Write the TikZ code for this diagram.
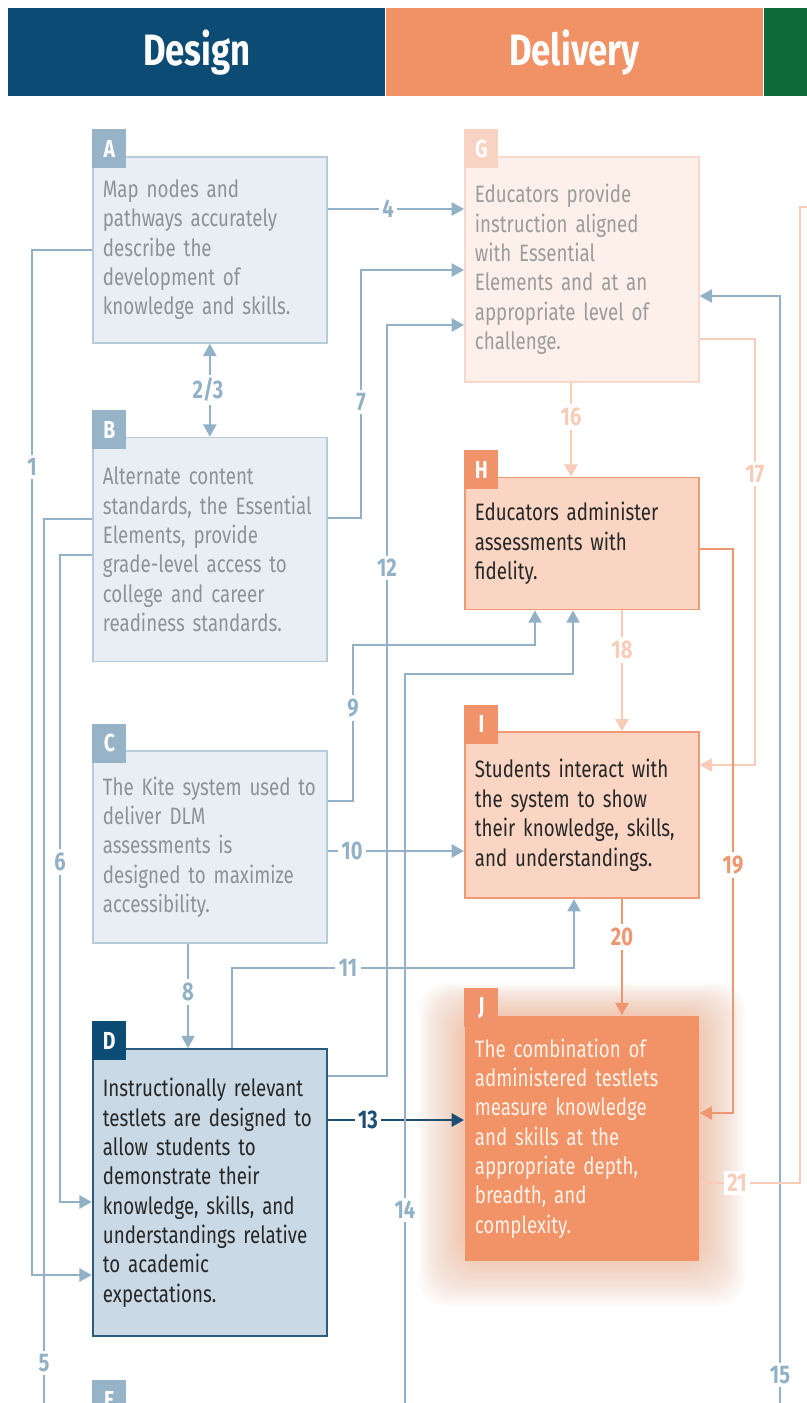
\documentclass[tikz,border=0pt]{standalone}
\usepackage{fontspec}
\setmainfont{Fira Sans}[FakeStretch=0.79]
\usetikzlibrary{arrows.meta,positioning,backgrounds}

\definecolor{designblue}{HTML}{0B4B74}
\definecolor{deliverorange}{HTML}{F19166}
\definecolor{scoregreen}{HTML}{0F6A3B}
\definecolor{flowblue}{HTML}{92B1C7}
\definecolor{designfill}{HTML}{E8EEF3}
\definecolor{designline}{HTML}{B7CBD9}
\definecolor{designtab}{HTML}{96B3C8}
\definecolor{designtext}{HTML}{8D9297}
\definecolor{corefill}{HTML}{C9D9E5}
\definecolor{coreline}{HTML}{2B5B7E}
\definecolor{corelabel}{HTML}{1D4F74}
\definecolor{plainfill}{HTML}{FDF0EA}
\definecolor{plainline}{HTML}{F8D8CA}
\definecolor{plaintab}{HTML}{F8D3C3}
\definecolor{plaintext}{HTML}{9C9C9C}
\definecolor{activefill}{HTML}{FBD5C3}
\definecolor{activeline}{HTML}{F09A73}
\definecolor{activetab}{HTML}{F0936A}
\definecolor{outcomefill}{HTML}{F29367}
\definecolor{outcometext}{HTML}{FFF2EA}
\definecolor{faintflow}{HTML}{F8CCB9}
\definecolor{strongflow}{HTML}{EF9870}

\begin{document}
\begin{tikzpicture}[
  x=0.02cm, y=-0.02cm,
  >={Triangle[length=7pt,width=7.5pt]},
  header band/.style={anchor=north west, minimum width=7.54cm, minimum height=1.76cm,
    inner sep=0pt, text=white, font=\fontsize{25}{25}\selectfont\bfseries},
  box/.style={rectangle, anchor=north west, inner xsep=0.12cm, text width=4.44cm,
    minimum width=4.68cm, align=left, font=\fontsize{13.5}{16.7}\selectfont,
    execute at begin node={\leftskip=0.08cm}, line width=1pt},
  design box/.style={box, fill=designfill, draw=designline, text=designtext},
  core box/.style={box, fill=corefill, draw=coreline, text=black!85, line width=1.3pt},
  plain box/.style={box, fill=plainfill, draw=plainline, text=plaintext},
  active box/.style={box, fill=activefill, draw=activeline, text=black!85},
  outcome box/.style={box, fill=outcomefill, text=outcometext},
  letter tab/.style={anchor=north west, minimum width=0.68cm, minimum height=0.78cm,
    inner sep=0pt, text=white, font=\fontsize{14}{14}\selectfont\bfseries},
  flow/.style={->, draw=flowblue, line width=1.1pt},
  flow line/.style={draw=flowblue, line width=1.1pt},
  faint flow/.style={->, draw=faintflow, line width=1pt},
  strong flow/.style={->, draw=strongflow, line width=1.2pt},
  num/.style={fill=white, inner sep=2pt, text=flowblue, font=\fontsize{14.5}{14.5}\selectfont\bfseries},
  faint num/.style={num, text=faintflow},
  strong num/.style={num, text=strongflow}
]
  \useasboundingbox (0,0) rectangle (807,1403);
  \begin{scope}[on background layer]
    \fill[white] (0,0) rectangle (807,1403);
  \end{scope}
  \clip (0,0) rectangle (807,1403);

  % column headers
  \node[header band, fill=designblue] (design) at (8,8) {Design};
  \node[header band, fill=deliverorange, right=0pt of design] (delivery) {Delivery};
  \node[header band, fill=scoregreen, minimum width=1.2cm, right=0pt of delivery] (scoring) {};

  % design column
  \node[design box, minimum height=3.72cm] (A) at (92,156)
    {Map nodes and\\pathways accurately\\describe the\\development of\\knowledge and skills.};
  \node[design box, minimum height=4.48cm, below=1.86cm of A] (B)
    {Alternate content\\standards, the Essential\\Elements, provide\\grade-level access to\\college and career\\readiness standards.};
  \node[design box, minimum height=3.84cm, below=1.76cm of B] (C)
    {The Kite system used to\\deliver DLM\\assessments is\\designed to maximize\\accessibility.};
  \node[core box, minimum height=5.74cm, below=2.08cm of C] (D)
    {Instructionally relevant\\testlets are designed to\\allow students to\\demonstrate their\\knowledge, skills, and\\understandings relative\\to academic\\expectations.};

  % delivery column
  \node[plain box, minimum height=4.5cm] (G) at (464,156)
    {Educators provide\\instruction aligned\\with Essential\\Elements and at an\\appropriate level of\\challenge.};
  \node[active box, minimum height=2.64cm, below=1.88cm of G] (H)
    {Educators administer\\assessments with\\fidelity.};
  \node[active box, minimum height=3.32cm, below=2.42cm of H] (I)
    {Students interact with\\the system to show\\their knowledge, skills,\\and understandings.};
  \node[outcome box, minimum height=4.9cm, below=2.32cm of I] (J)
    {The combination of\\administered testlets\\measure knowledge\\and skills at the\\appropriate depth,\\breadth, and\\complexity.};

  % soft glow round J
  \begin{scope}[on background layer]
    \foreach \g in {2,4,...,46}
      \fill[outcomefill, opacity=0.022, rounded corners=16pt]
        ([shift={(-\g*0.02cm,-\g*0.022cm+0.12cm)}]J.south west) rectangle
        ([shift={(\g*0.02cm,\g*0.014cm)}]J.north east);
  \end{scope}

  % letter tabs
  \node[letter tab, fill=designtab] (tabA) at ([yshift=0.54cm]A.north west) {A};
  \node[letter tab, fill=designtab] (tabB) at ([yshift=0.54cm]B.north west) {B};
  \node[letter tab, fill=designtab] (tabC) at ([yshift=0.54cm]C.north west) {C};
  \node[letter tab, fill=designblue] (tabD) at ([yshift=0.54cm]D.north west) {D};
  \node[letter tab, fill=designtab] (tabE) at (92,1380) {E};
  \node[letter tab, fill=plaintab] (tabG) at ([yshift=0.54cm]G.north west) {G};
  \node[letter tab, fill=activetab] (tabH) at ([yshift=0.54cm]H.north west) {H};
  \node[letter tab, fill=activetab] (tabI) at ([yshift=0.54cm]I.north west) {I};
  \node[letter tab, fill=activetab] (tabJ) at ([yshift=0.54cm]J.north west) {J};

  % free ends that leave the picture
  \coordinate (out5) at (44,1420);
  \coordinate (in14) at (405,1420);
  \coordinate (in15) at (780,1420);
  \coordinate (out21) at (830,207);

  % design connectors
  \draw[flow] (A.west) -| (32,1275) -- (D.west |- 0,1275);
  \draw[flow,<->] (A.south) -- (B.north);
  \draw[flow] (A.east |- 0,209) -- (G.west |- 0,209);
  \draw[flow line] (B.west |- 0,519) -| (out5);
  \draw[flow] (B.west |- 0,555) -| (60,1202) -- (D.west |- 0,1202);
  \draw[flow] (B.east |- 0,518) -| (361,270) -- (G.west |- 0,270);
  \draw[flow] (C.south -| 188,0) -- (D.north -| 188,0);
  \draw[flow] (C.east |- 0,801) -| (353,645) -| (H.south -| 535,0);
  \draw[flow] (C.east |- 0,851) -- (I.west |- 0,851);
  \draw[flow] (D.north -| 232,0) |- (574,968) -- (I.south -| 574,0);
  \draw[flow] (D.east |- 0,1076) -| (387,325) -- (G.west |- 0,325);
  \draw[->, draw=corelabel, line width=1.4pt] (D.east |- 0,1120) -- (J.west |- 0,1120);
  \draw[flow] (in14) |- (573,674) -- (H.south -| 573,0);
  \draw[flow] (in15) |- (G.east |- 0,296);

  % delivery connectors
  \draw[faint flow] (G.south -| 571,0) -- (H.north -| 571,0);
  \draw[faint flow] (G.east |- 0,339) -| (755,765) -- (I.east |- 0,765);
  \draw[faint flow] (H.south -| 622,0) -- (I.north -| 622,0);
  \draw[strong flow] (H.east |- 0,549) -| (733,1113) -- (J.east |- 0,1113);
  \draw[strong flow] (I.south -| 622,0) -- (J.north -| 622,0);
  \draw[draw=faintflow, line width=1pt] (J.east |- 0,1183) -| (800,207) -- (out21);

  % connector numbers
  \node[num] (n1) at (32,467) {1};
  \node[num] (n23) at (208,390) {2/3};
  \node[num] (n4) at (388,209) {4};
  \node[num] (n5) at (44,1363) {5};
  \node[num] (n6) at (60,862) {6};
  \node[num] (n7) at (361,402) {7};
  \node[num] (n8) at (188,992) {8};
  \node[num] (n9) at (353,708) {9};
  \node[num] (n10) at (352,851) {10};
  \node[num] (n11) at (348,968) {11};
  \node[num] (n12) at (387,568) {12};
  \node[num, text=corelabel] (n13) at (368,1120) {13};
  \node[num] (n14) at (405,1210) {14};
  \node[num] (n15) at (780,1375) {15};
  \node[faint num] (n16) at (571,417) {16};
  \node[faint num] (n17) at (755,474) {17};
  \node[faint num] (n18) at (622,650) {18};
  \node[strong num] (n19) at (733,865) {19};
  \node[strong num] (n20) at (622,937) {20};
  \node[faint num] (n21) at (737,1183) {21};
\end{tikzpicture}
\end{document}
